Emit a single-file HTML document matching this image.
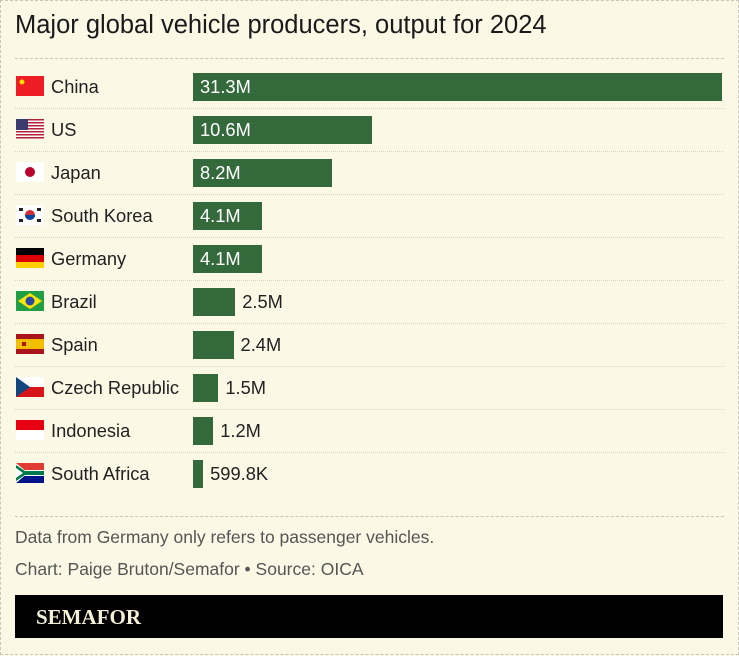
<!DOCTYPE html><html><head><style>
body{margin:0;background:#fbf8e6;width:739px;height:656px;overflow:hidden;font-family:"Liberation Sans",sans-serif;}
#w{position:absolute;left:0;top:0;width:737px;height:653px;border:1px dashed #c8c6bc;}
.t{position:absolute;left:15px;top:11px;font-size:25.5px;color:#1a1a1a;}
.hl{position:absolute;left:15px;right:15px;border-top:1px dashed #c8c6bc;}
.dl{position:absolute;left:15px;right:15px;border-top:1px dotted #d4d2c6;}
.lab{position:absolute;left:51px;font-size:18.3px;color:#222;line-height:20px;}
.bar{position:absolute;left:193px;height:28px;background:#346a3b;}
.v{position:absolute;font-size:18.3px;line-height:20px;}
.fl{position:absolute;left:16px;width:28px;height:20px;}
.f{position:absolute;left:15px;font-size:17.5px;color:#555;}
</style></head><body><div id="w"></div>
<div class="t">Major global vehicle producers, output for 2024</div>
<div class="hl" style="top:58px"></div>
<div id="rows"></div>
<div class="hl" style="top:516px"></div>
<div class="f" style="top:527px">Data from Germany only refers to passenger vehicles.</div>
<div class="f" style="top:559px">Chart: Paige Bruton/Semafor • Source: OICA</div>
<div style="position:absolute;left:15px;top:595px;width:708px;height:43px;background:#000;"><span style="position:absolute;left:21px;top:10px;font-family:'Liberation Serif',serif;font-weight:bold;font-size:21px;color:#f4efd8;">SEMAFOR</span></div>
<script>
var d=[["China",31.3,"31.3M"],["US",10.6,"10.6M"],["Japan",8.2,"8.2M"],["South Korea",4.1,"4.1M"],["Germany",4.1,"4.1M"],["Brazil",2.5,"2.5M"],["Spain",2.4,"2.4M"],["Czech Republic",1.5,"1.5M"],["Indonesia",1.2,"1.2M"],["South Africa",0.5998,"599.8K"]];
var F=[
'<rect width="28" height="20" fill="#ee1c25"/><circle cx="6" cy="6" r="2.5" fill="#ffde00"/>',
'<rect width="28" height="20" fill="#fff"/>'+[0,3,6,9,12,15,18].map(y=>'<rect y="'+y+'" width="28" height="1.5" fill="#b22234"/>').join('')+'<rect width="12" height="11" fill="#3c3b6e"/>',
'<rect width="28" height="20" fill="#fff"/><circle cx="14" cy="10" r="5" fill="#bc002d"/>',
'<rect width="28" height="20" fill="#fff"/><circle cx="14" cy="10" r="5" fill="#cd2e3a"/><path d="M9 10a5 5 0 0 0 10 0z" fill="#0047a0"/><rect x="3" y="3" width="4" height="3" fill="#222"/><rect x="21" y="3" width="4" height="3" fill="#222"/><rect x="3" y="14" width="4" height="3" fill="#222"/><rect x="21" y="14" width="4" height="3" fill="#222"/>',
'<rect width="28" height="7" fill="#000"/><rect y="7" width="28" height="7" fill="#dd0000"/><rect y="14" width="28" height="6" fill="#ffce00"/>',
'<rect width="28" height="20" fill="#229e45"/><path d="M14 2L26 10L14 18L2 10z" fill="#f8e509"/><circle cx="14" cy="10" r="4.5" fill="#2b49a3"/>',
'<rect width="28" height="20" fill="#aa151b"/><rect y="5" width="28" height="10" fill="#f1bf00"/><rect x="6" y="8" width="4" height="4" fill="#aa151b"/>',
'<rect width="28" height="10" fill="#fff"/><rect y="10" width="28" height="10" fill="#d7141a"/><path d="M0 0L14 10L0 20z" fill="#11457e"/>',
'<rect width="28" height="10" fill="#e70011"/><rect y="10" width="28" height="10" fill="#fff"/>',
'<rect width="28" height="10" fill="#e03c31"/><rect y="10" width="28" height="10" fill="#001489"/><path d="M0 0L12 10L0 20" fill="#fff"/><path d="M0 3L10 10L0 17z" fill="#ffb612"/><path d="M0 5L7 10L0 15z" fill="#000"/><path d="M6 7H28V13H6L0 18V2z" fill="#fff"/><path d="M0 2L9 8H28V12H9L0 18V15L7 10L0 5z" fill="#007a4d"/>'];
var h='';
d.forEach((r,i)=>{var c=87+43*i;var w=r[1]*529/31.3;
if(i>0)h+='<div class="dl" style="top:'+(c-22)+'px"></div>';
h+='<svg class="fl" style="top:'+(c-11)+'px" viewBox="0 0 28 20">'+F[i]+'</svg>';
h+='<div class="lab" style="top:'+(c-10)+'px">'+r[0]+'</div>';
h+='<div class="bar" style="top:'+(c-14)+'px;width:'+w+'px"></div>';
var inside=w>60;
h+='<div class="v" style="top:'+(c-10)+'px;left:'+(inside?200:193+w+7)+'px;color:'+(inside?'#fff':'#222')+'">'+r[2]+'</div>';});
document.getElementById('rows').innerHTML=h;
</script></body></html>
